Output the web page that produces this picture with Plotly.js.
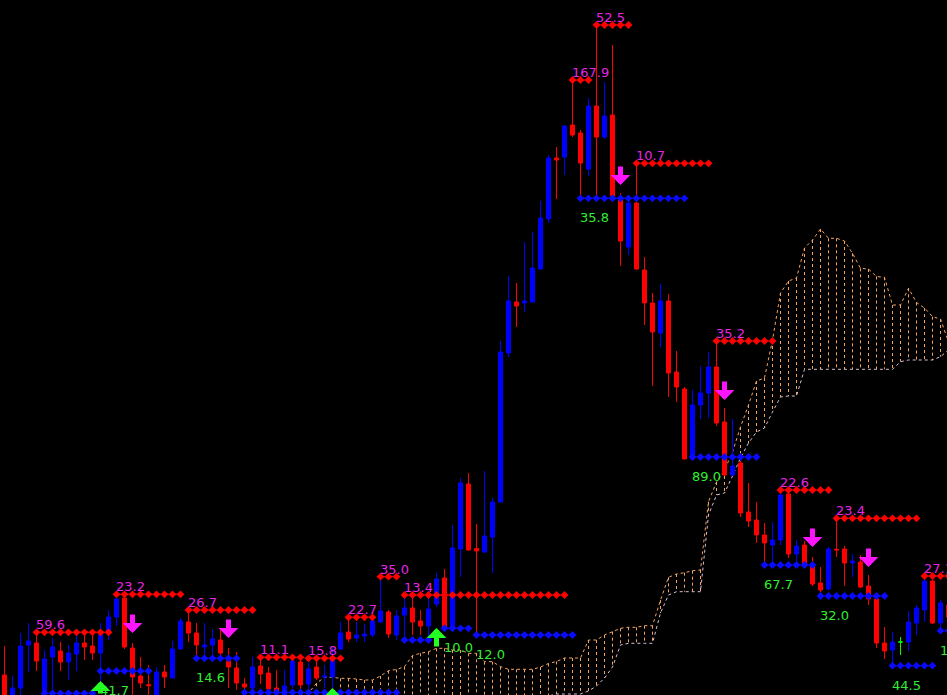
<!DOCTYPE html>
<html>
<head>
<meta charset="utf-8">
<script src="https://cdn.plot.ly/plotly-3.0.1.min.js"></script>
<style>
  html, body { margin: 0; padding: 0; background: #000; overflow: hidden; }
  #chart { width: 947px; height: 695px; }
</style>
</head>
<body>
<div id="chart"></div>
<script>
// ---- OHLC series, one value per bar, oldest first ----
const open = [2.0,-0.5,0.7,5.0,5.2,0.2,3.8,4.4,3.3,4.1,5.2,4.9,4.2,6.3,7.8,9.7,4.7,1.9,1.03,-0.2,
  2.3,1.7,4.6,7.3,6.2,4.8,5.0,5.5,3.4,2.7,1.1,0.7,2.9,2.2,0.7,-0.2,1.0,3.3,1.1,2.8,
  1.8,1.8,4.6,6.3,5.7,5.9,6.0,7.3,8.3,6.0,8.0,8.7,7.4,6.9,9.1,11.7,6.7,14.6,21.1,14.65,
  14.3,15.8,19.3,34.2,39.3,39.2,39.3,42.6,47.6,53.7,53.8,57.0,56.2,52.6,58.9,55.8,58.0,49.5,44.8,49.2,
  42.5,39.2,36.2,39.4,32.3,30.6,23.6,29.0,30.2,32.8,27.3,22.0,23.2,18.3,17.5,16.0,15.0,15.5,20.1,14.1,
  15.0,13.1,11.2,10.6,14.57,14.6,13.2,13.3,10.9,9.6,5.2,4.5,5.3,5.3,7.2,8.5,11.4,7.2,9.0];
const high = [4.9,1.9,6.2,7.2,6.1,4.5,5.7,5.3,5.0,6.2,6.0,6.5,7.2,8.5,9.7,10.05,5.2,3.8,3.0,2.8,
  3.0,5.4,7.7,8.5,7.2,7.2,6.6,6.5,4.7,4.3,1.7,3.8,3.8,2.8,2.5,2.5,3.8,3.77,3.2,3.67,
  3.0,4.7,7.3,7.77,7.3,7.1,7.8,11.83,8.5,8.5,10.0,9.7,8.5,10.0,12.2,12.6,17.0,21.7,22.2,17.1,
  22.4,19.7,35.4,41.9,41.2,45.3,46.3,49.4,54.0,54.8,57.0,61.5,56.5,59.7,67.0,61.3,65.0,50.2,49.7,53.3,
  43.8,40.2,41.1,40.1,34.4,30.8,30.5,32.9,34.3,35.4,28.7,27.6,23.6,21.2,19.3,17.2,17.3,20.5,20.5,15.5,
  15.4,13.8,12.8,14.8,17.67,14.9,14.1,14.0,12.0,9.9,6.8,6.3,5.8,8.4,9.0,11.9,11.9,9.5,9.5];
const low = [-1.0,-1.0,-0.5,2.3,2.4,-0.5,-0.3,2.4,1.5,2.4,3.5,3.5,1.2,5.5,6.9,4.6,-0.5,0.7,-0.5,-0.5,
  0.7,1.7,4.6,5.3,3.7,3.7,3.7,3.7,0.7,0.5,0.3,0.3,1.1,-0.2,-0.5,-0.5,0.7,0.5,0.0,1.5,
  0.7,0.3,4.5,5.3,5.3,5.3,5.8,7.2,5.7,5.5,5.5,6.0,6.0,5.5,8.8,6.5,6.5,11.8,14.4,6.0,
  14.2,12.2,19.3,33.8,36.8,38.3,39.3,42.6,47.2,49.6,52.0,55.8,49.67,51.9,49.5,55.6,49.7,42.9,44.0,42.5,
  37.0,30.9,34.8,29.8,29.3,23.6,23.5,27.6,27.7,26.9,21.9,21.9,17.8,16.8,15.2,13.0,13.0,15.0,13.7,13.0,
  13.0,10.9,9.9,10.5,13.8,10.9,11.8,10.7,9.0,4.7,3.6,2.9,4.0,4.4,6.0,7.3,7.1,6.43,7.0];
const close = [-0.5,0.7,4.9,5.4,3.4,3.6,4.8,3.3,4.2,5.2,4.8,4.2,6.0,7.8,9.6,4.8,1.8,1.2,0.93,2.3,
  1.8,4.6,7.4,6.2,5.0,5.0,5.6,4.2,2.8,1.2,0.8,2.8,2.1,0.6,0.2,0.9,3.4,1.0,2.6,1.7,
  1.9,3.6,6.2,5.6,6.0,6.1,7.4,8.4,6.1,7.9,8.7,7.3,6.9,8.6,11.6,6.8,14.7,21.2,14.5,14.4,
  15.9,19.3,34.3,39.4,38.9,39.4,42.7,47.7,53.7,53.5,56.9,56.0,53.2,58.9,55.8,57.9,49.9,45.4,49.2,42.6,
  39.2,36.3,39.4,32.2,30.8,23.6,29.0,30.2,32.8,27.2,22.0,22.9,18.2,17.4,16.0,15.2,15.5,20.0,14.1,14.9,
  13.1,11.1,10.5,14.6,14.5,13.2,13.4,10.8,9.6,5.2,4.4,5.3,5.3,7.3,8.7,11.4,7.2,9.2,7.8];

// ---- resistance levels (red diamonds, magenta tags) ----
const resPrice = [6.27, 10.07, 8.5, 3.77, 3.67, 7.77, 11.83, 10.0, 61.5, 67.0, 53.17, 35.4, 20.5, 17.67, 11.9];
const resFrom  = [4, 14, 23, 32, 38, 43, 47, 50, 71, 74, 79, 89, 97, 104, 115];
const resTo    = [13, 22, 31, 37, 42, 46, 49, 70, 73, 78, 88, 96, 103, 114, 118];
const resLabel = ['59.6', '23.2', '26.7', '11.1', '15.8', '22.7', '35.0', '13.4', '167.9', '52.5', '10.7', '35.2', '22.6', '23.4', '27.1'];

// ---- support levels (blue diamonds, green tags) ----
const supPrice = [0.17, 2.4, 3.67, 0.25, 5.5, 6.67, 6.0, 49.67, 23.8, 13.0, 9.9, 2.93, 6.43];
const supFrom  = [5, 12, 24, 30, 50, 55, 59, 72, 86, 95, 102, 111, 117];
const supTo    = [11, 18, 29, 49, 53, 58, 71, 85, 94, 101, 110, 116, 118];
const supLabel = ['', '41.7', '14.6', '', '', '10.0', '12.0', '35.8', '89.0', '67.7', '32.0', '44.5', '18.3'];

// ---- signal arrows: bar and price of the arrow tip ----
const sellBar = [16, 28, 77, 90, 101, 108];
const sellTip = [6.2, 5.7, 51.0, 29.5, 14.8, 12.8];
const buyBar  = [12, 41, 54];
const buyTip  = [1.4, 0.7, 6.7];

// ---- cloud spans, starting at bar cloudStart ----
const cloudStart = 37;
const spanA = [-1.0,0.2,1.17,1.77,1.77,1.67,1.67,1.6,1.5,1.5,1.9,2.43,2.55,2.83,3.95,4.17,4.33,4.67,4.67,4.5,
  4.5,4.17,4.17,3.33,3.33,2.83,2.57,2.57,2.57,2.57,2.8,3.15,3.35,3.7,3.7,3.7,5.5,5.5,6.0,6.33,
  6.67,6.77,6.77,6.93,6.93,9.5,11.77,12.1,12.23,12.43,12.5,19.33,21.3,22.5,24.3,26.8,29.0,31.4,31.7,35.5,
  40.2,41.4,41.7,44.7,45.5,46.6,45.67,45.67,45.4,44.17,42.67,42.6,41.85,41.77,39.0,39.0,40.67,39.25,38.7,37.83,
  37.6,35.3];
const spanB = [-1.0,-1.0,-1.0,-1.0,-1.0,-1.0,-1.0,-1.0,-1.0,-1.0,-1.0,-1.0,-1.0,-1.0,-1.0,-1.0,-1.0,-1.0,-1.0,-1.0,
  -1.0,-1.0,-1.0,-1.0,-1.0,-1.0,-1.0,-1.0,-1.0,-1.0,-0.5,-0.1,0.1,0.1,0.1,0.1,0.4,0.9,1.7,2.8,
  5.0,5.17,5.17,5.17,5.17,8.2,10.0,10.33,10.33,10.33,10.33,18.0,20.0,20.2,21.9,23.7,25.2,26.3,26.7,28.3,
  29.8,29.9,29.9,32.57,32.57,32.57,32.57,32.57,32.57,32.57,32.57,32.57,32.57,32.57,32.57,33.33,33.5,33.5,33.5,33.5,
  33.83,34.5];

// ---- colours ----
const BULL = '#0000ff', BEAR = '#ff0000', DOJI = '#00ff00';
const RES = '#ff0000', SUP = '#0a0aff';
const RES_TXT = '#e526e5', SUP_TXT = '#30ee30';
const SELL = '#ff14ff', BUY = '#22ff22';
const CLOUD_UP = '#f4a460', CLOUD_DN = '#d8bfd8';
const FONT = 'DejaVu Sans, Verdana, sans-serif';

const idx = open.map((_, i) => i);

function candles(test, color) {
  const sel = idx.filter(i => test(open[i], close[i]));
  const style = { line: { color: color, width: 1 }, fillcolor: color };
  return {
    type: 'candlestick',
    x: sel,
    open: sel.map(i => open[i]),
    high: sel.map(i => high[i]),
    low: sel.map(i => low[i]),
    close: sel.map(i => close[i]),
    increasing: style,
    decreasing: style,
    whiskerwidth: 0,
    showlegend: false,
    hoverinfo: 'skip'
  };
}

function levels(price, from, to, color) {
  const x = [], y = [];
  price.forEach((p, j) => {
    for (let k = from[j]; k <= to[j]; k++) { x.push(k); y.push(p); }
    x.push(null); y.push(null);
  });
  return {
    type: 'scatter', mode: 'lines+markers', x: x, y: y,
    line: { color: color, width: 1 },
    marker: { symbol: 'diamond', size: 6, color: color, line: { width: 0 } },
    connectgaps: false, showlegend: false, hoverinfo: 'skip'
  };
}

const traces = [
  candles((o, c) => c > o, BULL),
  candles((o, c) => c < o, BEAR),
  candles((o, c) => c === o, DOJI),
  levels(resPrice, resFrom, resTo, RES),
  levels(supPrice, supFrom, supTo, SUP)
];

// cloud: vertical hatching between the spans plus both span outlines
const shapes = [];
const dash = '3px,3px';
spanA.forEach((a, j) => {
  shapes.push({
    type: 'line', xref: 'x', yref: 'y', layer: 'below',
    x0: cloudStart + j, x1: cloudStart + j, y0: a, y1: spanB[j],
    line: { color: CLOUD_UP, width: 1, dash: dash }
  });
});
const pathOf = arr => arr.map((v, j) => (j ? 'L' : 'M') + (cloudStart + j) + ',' + v).join(' ');
shapes.push({ type: 'path', xref: 'x', yref: 'y', layer: 'below', path: pathOf(spanA),
  line: { color: CLOUD_UP, width: 1, dash: dash }, fillcolor: 'rgba(0,0,0,0)' });
shapes.push({ type: 'path', xref: 'x', yref: 'y', layer: 'below', path: pathOf(spanB),
  line: { color: CLOUD_DN, width: 1, dash: dash }, fillcolor: 'rgba(0,0,0,0)' });

// level tags and signal arrows
const annotations = [];
resLabel.forEach((t, j) => {
  if (!t) return;
  annotations.push({
    x: resFrom[j], y: resPrice[j], xref: 'x', yref: 'y', text: t, showarrow: false,
    xanchor: 'left', yanchor: 'bottom', xshift: -1, yshift: 0, borderpad: 0, borderwidth: 0,
    font: { family: FONT, size: 13, color: RES_TXT }
  });
});
supLabel.forEach((t, j) => {
  if (!t) return;
  annotations.push({
    x: supFrom[j], y: supPrice[j], xref: 'x', yref: 'y', text: t, showarrow: false,
    xanchor: 'left', yanchor: 'top', xshift: -1, yshift: -12, borderpad: 0, borderwidth: 0,
    font: { family: FONT, size: 13, color: SUP_TXT }
  });
});
function arrow(bar, tip, color, down) {
  return {
    x: bar, y: tip, xref: 'x', yref: 'y', text: '', showarrow: true,
    ax: 0, ay: down ? -20 : 20, axref: 'pixel', ayref: 'pixel',
    arrowhead: 1, arrowsize: 0.66, arrowwidth: 5, arrowcolor: color, standoff: 0
  };
}
sellBar.forEach((b, j) => annotations.push(arrow(b, sellTip[j], SELL, true)));
buyBar.forEach((b, j) => annotations.push(arrow(b, buyTip[j], BUY, false)));

const layout = {
  width: 947, height: 695,
  margin: { l: 0, r: 0, t: 0, b: 0, pad: 0 },
  paper_bgcolor: '#000', plot_bgcolor: '#000',
  showlegend: false,
  boxgap: 0.5, boxgroupgap: 0,
  xaxis: { range: [-0.5625, 117.8125], visible: false, showgrid: false, zeroline: false,
           rangeslider: { visible: false }, fixedrange: true },
  yaxis: { range: [0, 69.5], visible: false, showgrid: false, zeroline: false, fixedrange: true },
  font: { family: FONT },
  shapes: shapes,
  annotations: annotations
};

Plotly.newPlot('chart', traces, layout, { staticPlot: true, displayModeBar: false });
</script>
</body>
</html>
